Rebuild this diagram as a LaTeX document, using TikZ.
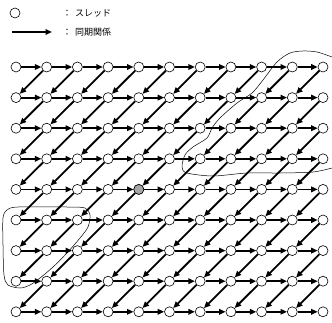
\documentclass[tikz,border=0pt]{standalone}
\usepackage{fontspec}
\newfontfamily\jpfont{Noto Sans CJK JP}
\usetikzlibrary{arrows.meta}
\tikzset{
  thread/.style={circle, draw, fill=white, inner sep=0pt, minimum size=10pt, line width=0.6pt},
  sync/.style={-{Triangle[length=6.5pt,width=5.5pt]}, line width=1.8pt},
  legendtext/.style={font=\jpfont\fontsize{9}{10}\selectfont, inner sep=0pt},
}
\begin{document}
\begin{tikzpicture}[x=1pt,y=1pt]
  \useasboundingbox (0,0) rectangle (332,322);
  % legend
  \node[thread] (lthread) at (15,309) {};
  \node[legendtext] (lcolon1) at (67,309) {：};
  \node[legendtext, anchor=west] (ltext1) at (75,309) {スレッド};
  \coordinate (lstart) at (12,290);
  \coordinate (lend) at (52,290);
  \draw[sync] (lstart) -- (lend);
  \node[legendtext] (lcolon2) at (67,290) {：};
  \node[legendtext, anchor=west] (ltext2) at (75,290) {同期関係};
  % threads
  \foreach \row in {0,...,8}{
    \foreach \col in {0,...,10}{
      \pgfmathsetmacro\tx{16+30.7*\col}
      \pgfmathsetmacro\ty{255-30.6*\row}
      \node[thread] (t\row x\col) at (\tx,\ty) {};
    }
  }
  \node[thread, fill=gray!70] (tgray) at (t4x4) {};
  % synchronization
  \foreach \row in {0,...,8}{
    \foreach \col in {0,...,9}{
      \pgfmathtruncatemacro\ncol{\col+1}
      \draw[sync] (t\row x\col) -- (t\row x\ncol);
    }
  }
  \foreach \row in {0,...,7}{
    \foreach \col in {0,...,9}{
      \pgfmathtruncatemacro\ncol{\col+1}
      \pgfmathtruncatemacro\nrow{\row+1}
      \draw[sync] (t\row x\ncol) -- (t\nrow x\col);
    }
  }
  % regions
  \draw[line width=0.5pt] plot[smooth cycle] coordinates {(7,112) (18,115) (67,115) (85,114) (90,107) (88,95) (80,84) (67,69) (53,55) (40,44) (30,37) (20,34) (8,37) (4,47) (3,77) (3,104)};
  \draw[line width=0.5pt] plot[smooth] coordinates {(332,154) (313,150) (280,149) (247,149) (213,146) (187,149) (182,155) (185,167) (193,175) (207,184) (212,194) (220,204) (237,219) (252,229) (263,242) (277,260) (290,269) (303,271) (317,270) (332,265)};
\end{tikzpicture}
\end{document}
